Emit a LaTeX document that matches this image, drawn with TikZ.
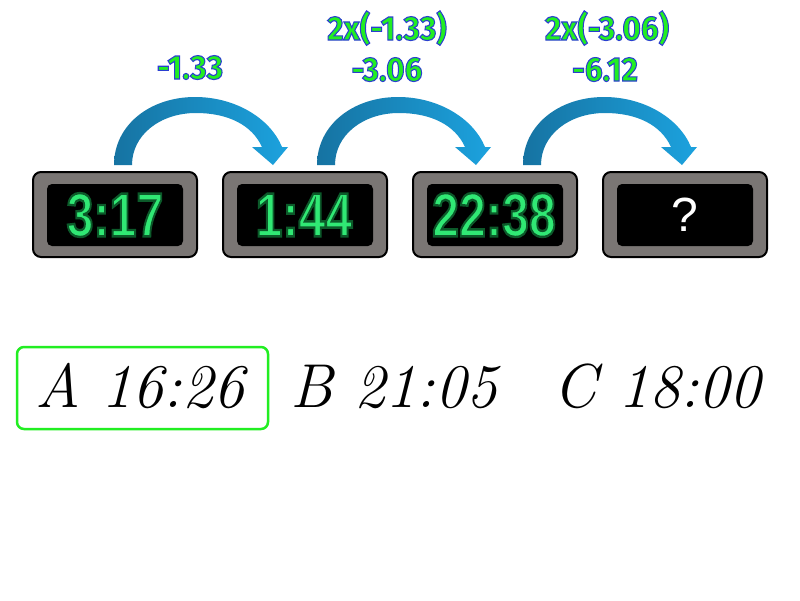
\documentclass[tikz,border=0pt]{standalone}
\usepackage{fontspec}
\newfontfamily\labfont{Fira Sans}
\newfontfamily\clockfont{Liberation Sans}
\definecolor{arrowdark}{HTML}{1673A2}
\definecolor{arrowlight}{HTML}{1CA2DE}
\definecolor{labgreen}{HTML}{22EE22}
\definecolor{labblue}{HTML}{2A3FD0}
\definecolor{digitgreen}{HTML}{30E874}
\definecolor{glowdark}{HTML}{0C5A2A}
\definecolor{bodygray}{HTML}{7A7674}
\definecolor{boxgreen}{HTML}{22EE22}
% outlined text: fill in current colour, stroke with given RGB and width
\newcommand\strokedtext[3]{\special{pdf:code 2 Tr #2 w #1 RG}#3\special{pdf:code 0 Tr}}
\tikzset{
  clockbody/.style={draw=black, line width=2pt, fill=bodygray, rounded corners=8pt, minimum width=164pt, minimum height=85pt, inner sep=0pt},
  clockscreen/.style={fill=black, rounded corners=5pt, minimum width=136pt, minimum height=62pt, inner sep=0pt},
  clockdigit/.style={inner sep=0pt, text=digitgreen, font=\clockfont\bfseries\fontsize{62}{62}\selectfont, xscale=0.78},
  qmark/.style={inner sep=0pt, text=white, font=\clockfont\fontsize{48}{48}\selectfont},
  labtext/.style={inner sep=0pt, anchor=base, text=labgreen, font=\labfont\bfseries\fontsize{34}{34}\selectfont, xscale=0.93},
  answer/.style={inner sep=0pt, anchor=base west, font=\itshape\fontsize{62}{62}\selectfont},
  answerbox/.style={draw=boxgreen, line width=2.5pt, rounded corners=7pt, minimum width=251pt, minimum height=82pt, inner sep=0pt}
}
\newcommand\clockshow[3]{%
  \node[clockdigit] (#1) at (#2) {\strokedtext{0.047 0.353 0.165}{2.4}{#3}};
}
\newcommand\outlabel[3]{%
  \node[labtext] (#1) at (#2) {\strokedtext{0.165 0.247 0.816}{1.1}{#3}};
}
\newcommand\bluearrow[1]{%
  \begin{scope}[shift={(#1)}]
    \shade[left color=arrowdark, right color=arrowlight]
      (0,0) .. controls (0,-40) and (36,-68) .. (81,-68)
      .. controls (121,-68) and (156,-47) .. (168,-18)
      -- (174,-18) -- (159,0) -- (138,-18) -- (148,-18)
      .. controls (138,-40) and (114,-52) .. (82,-52)
      .. controls (46,-52) and (18,-30) .. (18,0) -- cycle;
  \end{scope}
}
\begin{document}
\begin{tikzpicture}[x=1pt, y=-1pt]
\useasboundingbox[fill=white] (0,0) rectangle (800,600);

% arrows
\bluearrow{114,165}
\bluearrow{317,165}
\bluearrow{523,165}

% clocks
\node[clockbody] (c1) at (115,214.5) {};
\node[clockbody] (c2) at (305,214.5) {};
\node[clockbody] (c3) at (495,214.5) {};
\node[clockbody] (c4) at (685,214.5) {};
\node[clockscreen] (s1) at (115,215) {};
\node[clockscreen] (s2) at (305,215) {};
\node[clockscreen] (s3) at (495,215) {};
\node[clockscreen] (s4) at (685,215) {};
\clockshow{t1}{115,215}{3:17}
\clockshow{t2}{304,215}{1:44}
\clockshow{t3}{494,215}{22:38}
\node[qmark] (q) at (685,215) {?};

% labels
\outlabel{l1}{190,79}{-1.33}
\outlabel{l2a}{387,40}{2x(-1.33)}
\outlabel{l2b}{387,81}{-3.06}
\outlabel{l3a}{607,40}{2x(-3.06)}
\outlabel{l3b}{605,81}{-6.12}

% answers
\node[answerbox] (boxA) at (142.5,388) {};
\node[answer] (ansA) at (35,407) {A 16:26};
\node[answer] (ansB) at (290,407) {B 21:05};
\node[answer] (ansC) at (553,407) {C 18:00};
\end{tikzpicture}
\end{document}
